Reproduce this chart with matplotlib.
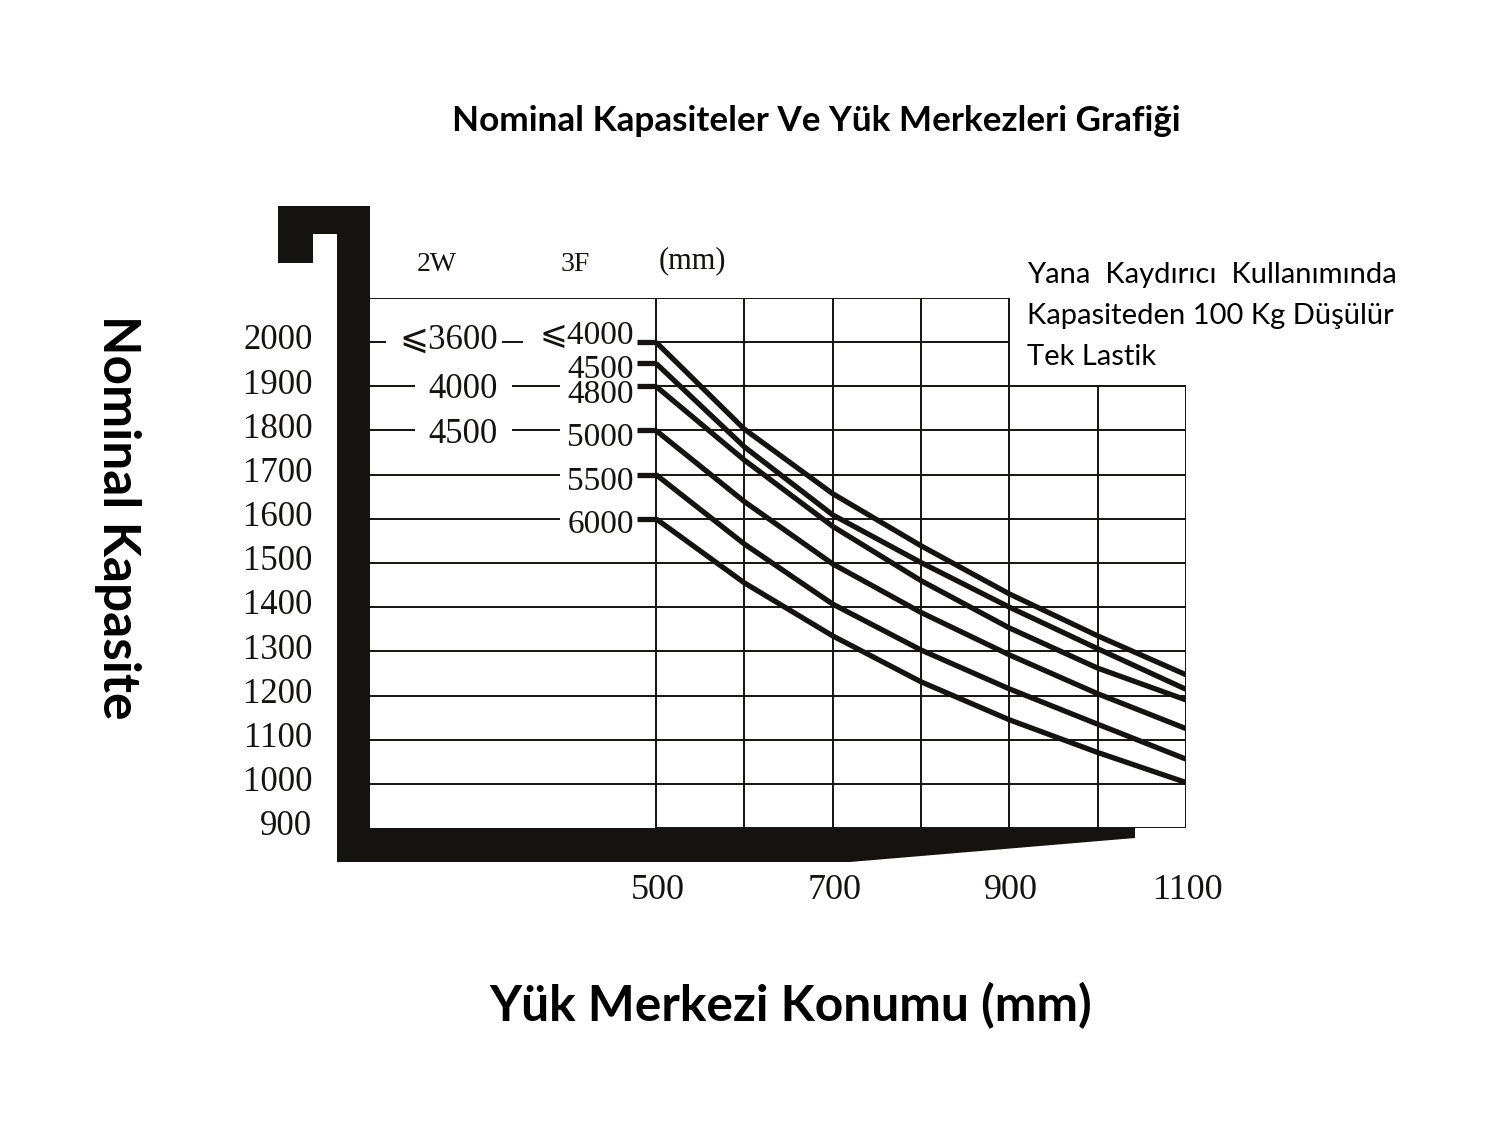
import matplotlib
matplotlib.use("Agg")
import matplotlib.pyplot as plt
from matplotlib.patches import Polygon

W, H = 1489, 1129

# load centre (mm) against rated capacity (kg)
load_center = [500, 600, 700, 800, 900, 1000, 1100]
cap_4000 = [2000, 1803, 1657, 1539, 1430, 1335, 1247]
cap_4500 = [1952, 1763, 1609, 1501, 1400, 1306, 1214]
cap_4800 = [1900, 1733, 1583, 1460, 1353, 1262, 1190]
cap_5000 = [1800, 1639, 1498, 1388, 1292, 1204, 1125]
cap_5500 = [1700, 1543, 1407, 1303, 1215, 1135, 1056]
cap_6000 = [1600, 1455, 1335, 1231, 1145, 1071, 1003]
curves = [cap_4000, cap_4500, cap_4800, cap_5000, cap_5500, cap_6000]

# lift heights: 3F mast per curve, 2W mast on the left column
mast_3f = ["\u2a7d4000", "4500", "4800", "5000", "5500", "6000"]
mast_2w = ["\u2a7d3600", "4000", "4500"]
mast_2w_cap = [2000, 1900, 1800]

y_ticks = [900, 1000, 1100, 1200, 1300, 1400, 1500, 1600, 1700, 1800, 1900, 2000]
x_ticks = [500, 700, 900, 1100]
grid_x = [500, 600, 700, 800, 900, 1000, 1100]
grid_y = [1000, 1100, 1200, 1300, 1400, 1500, 1600, 1700, 1800, 1900, 2000]

title = "Nominal Kapasiteler Ve Yük Merkezleri Grafiği"
xlabel = "Yük Merkezi Konumu (mm)"
ylabel = "Nominal Kapasite"
note_lines = ["Yana  Kaydırıcı  Kullanımında", "Kapasiteden 100 Kg Düşülür", "Tek Lastik"]

INK = "#14130f"
SERIF = ["Liberation Serif", "DejaVu Sans"]
SANS = "Lato"

fig = plt.figure(figsize=(W / 100, H / 100), dpi=100)
fig.patch.set_facecolor("white")

# pixel-space layer for the heavy frame and the headings
deco = fig.add_axes([0, 0, 1, 1])
deco.set_xlim(0, W)
deco.set_ylim(H, 0)
deco.axis("off")
frame = [(278, 206), (370, 206), (370, 828), (1135, 828), (1135, 838), (850, 862),
         (337, 862), (337, 234), (313, 234), (313, 263), (278, 263)]
deco.add_patch(Polygon(frame, closed=True, facecolor=INK, edgecolor=INK, lw=0))

deco.text(816, 121, title, fontsize=25.3, fontweight="bold", family=SANS,
          ha="center", va="center", color="black")
deco.text(791, 1006, xlabel, fontsize=35.8, fontweight="bold", family=SANS,
          ha="center", va="center", color="black")
deco.text(117, 517, ylabel, fontsize=37, fontweight="bold", family=SANS,
          ha="center", va="center", rotation=270, color="black")
for i, line in enumerate(note_lines):
    deco.text(1027, 275 + 41 * i, line, fontsize=21, family=SANS,
              ha="left", va="center", color="black")

# data layer: x in mm, y in kg
XL = 176.2
ax = fig.add_axes([370 / W, (H - 828) / H, (1186 - 370) / W, (828 - 298) / H])
ax.set_xlim(XL, 1100)
ax.set_ylim(900, 2100)
ax.set_facecolor("none")
ax.axis("off")

glw = 1.4
for x in grid_x:
    top = 2100 if x <= 900 else 1900
    ax.vlines(x, 900, top, color=INK, lw=glw)
for y in grid_y:
    right = 900 if y == 2000 else 1100
    ax.hlines(y, 500, right, color=INK, lw=glw)
    if y <= 1500:
        ax.hlines(y, XL, 500, color=INK, lw=glw)
ax.hlines(2100, XL, 900, color=INK, lw=glw)
ax.hlines(900, 500, 1100, color=INK, lw=glw)

# leader lines between the mast labels
ax.hlines([1600, 1700], XL, 391, color=INK, lw=glw)
ax.hlines([1800, 1900], XL, 227, color=INK, lw=glw)
ax.hlines([1800, 1900], 337, 391, color=INK, lw=glw)
ax.hlines(2000, XL, 194, color=INK, lw=glw)
ax.hlines(2000, 326, 349, color=INK, lw=glw)

# vertical nudges (kg) so each label sits as in the original sheet
lab_3f_dy = [14, -15, -19, -17, -15, -13]
lab_2w_dy = [5, -8, -8]

for cap, lab, dy in zip(curves, mast_3f, lab_3f_dy):
    ax.plot(load_center, cap, color=INK, lw=3.8, solid_capstyle="butt")
    ax.hlines(cap[0], 478, 500, color=INK, lw=3.8)
    ax.text(475, cap[0] + dy, lab, fontsize=24, family=SERIF, ha="right",
            va="center", color=INK, clip_on=False)
for cap, lab, dy in zip(mast_2w_cap, mast_2w, lab_2w_dy):
    ax.text(321, cap + dy, lab, fontsize=25, family=SERIF, ha="right",
            va="center", color=INK, clip_on=False)

ax.text(252, 2175, "2W", fontsize=20, family=SERIF, ha="center", va="center", color=INK, clip_on=False)
ax.text(408, 2175, "3F", fontsize=20, family=SERIF, ha="center", va="center", color=INK, clip_on=False)
ax.text(541, 2185, "(mm)", fontsize=22, family=SERIF, ha="center", va="center", color=INK, clip_on=False)

for y in y_ticks:
    ax.text(111, y + 3, str(y), fontsize=25, family=SERIF, ha="right",
            va="center", color=INK, clip_on=False)
for x in x_ticks:
    ax.text(x + 2, 759, str(x), fontsize=26, family=SERIF, ha="center",
            va="center", color=INK, clip_on=False)

fig.savefig("out.png", dpi=100)
